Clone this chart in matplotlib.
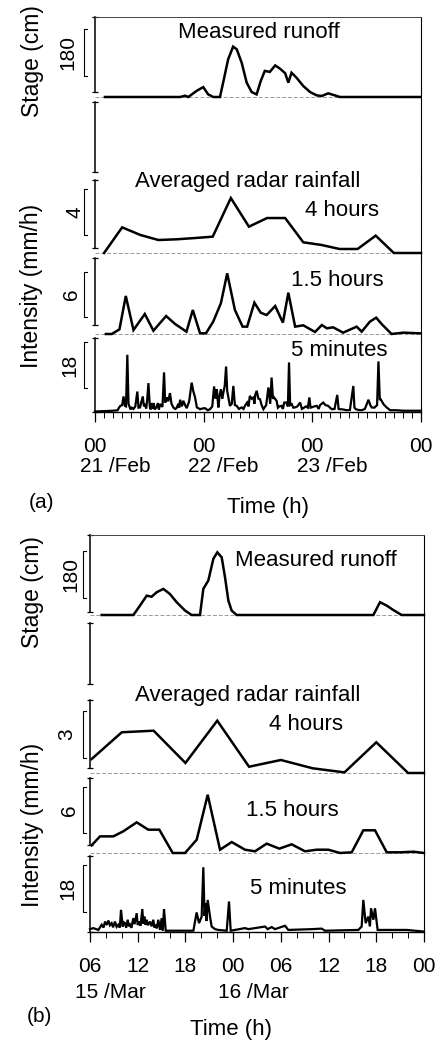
import matplotlib
matplotlib.use('Agg')
import matplotlib.pyplot as plt
from matplotlib import transforms
from matplotlib.ticker import MultipleLocator

plt.rcParams['font.family'] = ['Liberation Sans', 'DejaVu Sans']

# ---------------- DATA (hours) ----------------
# Panel (a): hours from 00h 21/Feb
stage_a = [(2.2, 0), (18.8, 0), (19.9, 5), (20.6, 0), (22.4, 23), (23.9, 38), (25.0, 10),
           (26.1, 0), (27.6, 0), (28.3, 55), (29.4, 144), (30.5, 193), (31.3, 183),
           (32.4, 131), (33.5, 55), (34.6, 19), (35.7, 10), (36.6, 61), (37.5, 100),
           (38.6, 96), (39.8, 121), (40.9, 108), (42.0, 91), (42.7, 55), (43.4, 93),
           (44.5, 74), (46.0, 42), (47.5, 19), (49.0, 6), (50.1, 4), (51.5, 14),
           (53.0, 6), (54.1, 0), (71.8, 0)]
rain4h_a = [(2, 0), (6, 2.23), (10, 1.57), (14, 1.13), (18, 1.19), (22, 1.30), (26, 1.42),
            (30, 4.78), (34, 2.29), (38, 3.04), (42, 3.04), (46, 0.93), (50, 0.70),
            (54, 0.35), (58, 0.35), (62, 1.51), (66, 0), (72, 0)]
rain15h_a = [(2.4, 0), (3.7, 0), (5.4, 0.62), (6.8, 5.07), (8.5, 0.53), (11.0, 2.67),
             (12.9, 0.44), (15.7, 2.4), (17.7, 1.33), (20.2, 0.31), (21.6, 3.2),
             (23.2, 0.09), (24.5, 0.09), (26.1, 1.64), (27.8, 4.09), (29.2, 8.09),
             (30.9, 3.2), (32.6, 0.98), (33.6, 0.98), (35.2, 4.18), (36.6, 2.84),
             (37.9, 2.53), (39.8, 3.73), (41.5, 1.51), (42.7, 5.51), (44.2, 0.98),
             (46.0, 1.16), (48.6, 0.27), (50.1, 1.2), (51.2, 0.76), (52.6, 0.89),
             (54.8, 0.18), (57.8, 0.98), (58.9, 0.31), (60.7, 1.64), (62.1, 2.18),
             (63.3, 1.33), (65.5, 0), (68.1, 0.18), (71.8, 0.09)]
rain5m_a = [(0, 0), (4.0, 0.3), (5.0, 0.5), (5.3, 1.5), (5.6, 2.2), (6.0, 2.5), (6.3, 5.9),
            (6.6, 2.2), (6.85, 2.0), (7.14, 22.2), (7.4, 3.0), (7.6, 2.0), (7.85, 0.8),
            (8.1, 1.5), (8.5, 1.0), (8.9, 2.0), (9.35, 7.8), (9.6, 1.5), (9.95, 1.6),
            (10.2, 3.5), (10.55, 5.9), (10.8, 2.0), (11.05, 2.9), (11.3, 1.2), (11.5, 4.0),
            (11.8, 11.1), (12.1, 2.0), (12.3, 0.8), (12.5, 3.3), (12.7, 1.0), (12.9, 3.3),
            (13.2, 0.8), (13.5, 1.5), (13.9, 3.3), (14.1, 0.8), (14.4, 2.9), (14.9, 1.8),
            (15.25, 15.3), (15.5, 3.5), (15.85, 5.5), (16.2, 4.0), (16.55, 7.2), (16.9, 3.0),
            (17.3, 1.6), (17.7, 1.0), (18.0, 1.3), (18.4, 3.0), (18.6, 1.5), (18.8, 4.6),
            (19.2, 2.0), (19.5, 4.2), (19.9, 2.5), (20.25, 1.3), (20.8, 4.0), (21.35, 11.3),
            (21.7, 8.0), (22.1, 5.5), (22.5, 1.6), (23.2, 0.9), (23.8, 1.2), (24.3, 1.3),
            (24.9, 0.5), (25.4, 0.9), (25.9, 2.0), (26.3, 9.8), (26.6, 5.0), (26.9, 8.7),
            (27.25, 1.6), (27.5, 6.0), (27.8, 8.7), (28.1, 5.0), (28.35, 7.4), (28.65, 10.0),
            (28.95, 17.6), (29.2, 8.0), (29.45, 5.5), (29.8, 2.2), (30.2, 3.0), (30.55, 10.0),
            (30.9, 2.5), (31.3, 2.2), (31.8, 1.0), (32.4, 1.6), (32.8, 1.0), (33.1, 2.2),
            (33.6, 3.5), (33.9, 2.0), (34.2, 6.1), (34.6, 5.0), (35.0, 5.5), (35.2, 3.0),
            (35.4, 6.5), (35.7, 8.1), (36.1, 5.0), (36.45, 4.8), (36.8, 2.5), (37.2, 0.9),
            (37.8, 2.5), (38.3, 9.4), (38.7, 3.0), (39.0, 13.3), (39.3, 5.0), (39.55, 5.5),
            (40.1, 4.2), (40.4, 1.5), (40.7, 2.0), (41.2, 2.2), (41.5, 1.0), (41.8, 3.5),
            (42.3, 3.5), (42.6, 2.0), (42.85, 19.2), (43.1, 2.5), (43.45, 2.9), (43.8, 1.5),
            (44.2, 1.6), (44.7, 2.0), (45.3, 3.5), (45.7, 1.0), (46.0, 1.3), (46.6, 2.0),
            (47.0, 1.5), (47.35, 5.5), (47.6, 1.5), (47.85, 1.6), (48.4, 2.0), (49.0, 2.2),
            (49.4, 1.0), (49.7, 2.5), (50.4, 3.5), (50.9, 2.5), (51.5, 2.2), (51.9, 1.5),
            (52.3, 0.9), (52.9, 1.0), (53.5, 6.5), (53.8, 1.0), (54.1, 0.9), (54.8, 0.8),
            (55.6, 0.5), (56.3, 0.6), (57.05, 10.0), (57.3, 1.5), (57.6, 0.9), (58.2, 0.6),
            (58.9, 0.5), (59.6, 1.0), (60.4, 4.6), (60.8, 2.5), (61.1, 1.6), (61.7, 1.5),
            (62.3, 2.5), (62.6, 19.6), (62.9, 4.8), (63.1, 4.8), (63.7, 2.9), (64.4, 1.6),
            (65.2, 0.5), (66.5, 0.5), (68.0, 0.3), (70.0, 0.3), (72.0, 0.3)]
hours_a = [0, 24, 48, 72]
hour_labels_a = ['00', '00', '00', '00']
date_pos_a = [0, 24, 48]
date_labels_a = ['21 /Feb', '22 /Feb', '23 /Feb']

# Panel (b): hours from 00h 15/Mar
stage_b = [(7.47, 0), (11.45, 0), (12.29, 36), (13.13, 74), (13.75, 70), (14.38, 87),
           (15.22, 100), (16.06, 80), (16.90, 49), (17.95, 17), (18.78, 0), (19.83, 0),
           (20.25, 100), (20.88, 132), (21.51, 215), (22.01, 240), (22.56, 221),
           (22.98, 144), (23.40, 55), (23.81, 17), (24.44, 0), (41.63, 0), (42.47, 49),
           (43.31, 36), (44.14, 19), (45.19, 0), (48.0, 0)]
rain4h_b = [(6.2, 0.89), (10, 2.60), (14, 2.70), (18, 0.64), (22, 3.34), (26, 0.40),
            (30, 0.83), (34, 0.30), (38, 0.04), (42, 1.96), (46, 0), (48, 0)]
rain15h_b = [(6.2, 1.0), (7.26, 2.17), (8.93, 2.17), (10.19, 2.83), (11.87, 4.0),
             (13.33, 3.04), (14.72, 3.04), (16.40, 0), (17.95, 0), (19.42, 1.74),
             (20.80, 7.6), (22.35, 0.43), (23.82, 1.43), (25.49, 0.43), (26.75, 0.22),
             (28.22, 1.22), (29.81, 0.57), (31.36, 1.13), (33.04, 0.22), (34.51, 0.43),
             (35.97, 0.43), (37.44, 0), (38.91, 0.09), (40.37, 2.96), (41.84, 2.96),
             (43.31, 0.09), (44.99, 0.09), (46.66, 0.17), (48.0, 0)]
rain5m_b = [(6.0, 0.9), (6.42, 1.3), (7.05, 0.6), (7.3, 1.8), (7.47, 2.6), (7.7, 1.5),
            (7.89, 3.8), (8.1, 2.5), (8.31, 4.2), (8.5, 2.4), (8.72, 3.2), (8.9, 1.6),
            (9.14, 3.8), (9.35, 1.8), (9.56, 2.6), (9.75, 1.5), (9.90, 8.3), (10.11, 1.9),
            (10.25, 3.5), (10.40, 3.2), (10.55, 1.5), (10.74, 4.5), (10.9, 2.0), (11.03, 2.6),
            (11.2, 1.4), (11.45, 5.1), (11.6, 2.8), (11.87, 7.0), (12.0, 2.5), (12.16, 3.8),
            (12.35, 2.2), (12.58, 8.6), (12.7, 3.0), (12.83, 5.7), (13.0, 2.5), (13.13, 4.5),
            (13.3, 2.4), (13.55, 3.8), (13.75, 2.0), (13.96, 4.5), (14.1, 1.5), (14.26, 2.6),
            (14.4, 1.2), (14.59, 4.5), (14.8, 0.6), (15.01, 5.1), (15.15, 0.4), (15.31, 8.6),
            (15.52, 0.3), (16.27, 0.3), (17.95, 0.3), (19.0, 0.3), (19.41, 7.3), (19.71, 3.2),
            (20.04, 5.7), (20.25, 24.6), (20.4, 6.0), (20.55, 10.9), (20.65, 4.0),
            (20.80, 12.1), (21.09, 5.7), (21.30, 1.9), (21.72, 0.9), (22.14, 0.6),
            (23.19, 0.3), (23.48, 11.5), (23.69, 0.3), (25.49, 1.3), (25.91, 0.9),
            (28.01, 1.9), (28.34, 0.9), (28.84, 1.7), (29.26, 0.9), (30.52, 2.2),
            (30.94, 0.6), (33.87, 0.9), (35.13, 1.1), (35.55, 0.3), (39.74, 0.6),
            (40.16, 1.9), (40.37, 12.1), (40.66, 3.2), (41.00, 5.7), (41.2, 2.0),
            (41.34, 8.9), (41.63, 4.5), (41.84, 8.9), (42.17, 0.6), (45.82, 0.6),
            (47.92, 0.0)]
hours_b = [6, 12, 18, 24, 30, 36, 42, 48]
hour_labels_b = ['06', '12', '18', '00', '06', '12', '18', '00']
date_pos_b = [6, 24]
date_labels_b = ['15 /Mar', '16 /Mar']

scale_lengths = [180, 4, 6, 18]          # panel (a) scale bars
scale_lengths_b = [180, 3, 6, 18]        # panel (b) scale bars

# ---------------- LAYOUT ----------------
W, H = 437, 1043
fig = plt.figure(figsize=(W / 100, H / 100), dpi=100)
LW = 1.8
LW5 = 1.6
FS_ANN = 16
FS_TICK = 15


def unzip(pairs):
    return [p[0] for p in pairs], [p[1] for p in pairs]


def make_row(left, right, top, bottom, zero, k, spine, xlim, first=False, last=False):
    ax = fig.add_axes([left / W, 1 - bottom / H, (right - left) / W, (bottom - top) / H])
    ax.set_facecolor('none')
    ax.set_xlim(*xlim)
    ax.set_ylim(-(bottom - zero) / k, (zero - top) / k)
    lo, hi = (zero - spine[1]) / k, (zero - spine[0]) / k
    ax.spines['left'].set_bounds(lo, hi)
    ax.spines['left'].set_linewidth(1.1)
    ax.spines['right'].set_linewidth(0.8)
    ax.spines['top'].set_visible(first)
    ax.spines['top'].set_linewidth(0.7)
    ax.spines['top'].set_color('#444444')
    ax.spines['bottom'].set_visible(last)
    ax.set_yticks([lo, hi])
    ax.tick_params(axis='y', direction='inout', length=5, width=0.9, labelleft=False)
    if not last:
        ax.set_xticks([])
    return ax


def scale_bar(ax, xpx, lbl_x, zero, k, bar_bottom_px, length, text):
    tr = transforms.blended_transform_factory(fig.transFigure, ax.transData)
    y0 = (zero - bar_bottom_px) / k
    y1 = y0 + length
    x0 = xpx / W
    x1 = (xpx + 3) / W
    ax.plot([x1, x0, x0, x1], [y0, y0, y1, y1], transform=tr, color='black',
            lw=0.8, clip_on=False)
    ax.text(lbl_x / W, (y0 + y1) / 2, text, transform=tr, rotation=90,
            ha='center', va='center', fontsize=15)


def ftext(x, y, s, **kw):
    fig.text(x / W, 1 - y / H, s, ha='center', va='center', **kw)


def panel(cfg):
    left, right, xlim = cfg['left'], cfg['right'], cfg['xlim']
    rows = cfg['rows']
    axes = []
    for i, r in enumerate(rows):
        ax = make_row(left, right, r['top'], r['bottom'], r['zero'], r['k'], r['spine'],
                      xlim, first=(i == 0), last=(i == len(rows) - 1))
        axes.append(ax)
    series = cfg['series']
    for j, (ax, s) in enumerate(zip([axes[0], axes[2], axes[3], axes[4]], series)):
        t, v = unzip(s)
        if j < 3:
            ax.axhline(0, color='#999999', lw=0.7, ls=(0, (4, 2)), zorder=1)
        lw = LW if j < 3 else LW5
        ax.plot(t, v, color='black', lw=lw, solid_joinstyle='miter', clip_on=False,
                zorder=3)
    for ax, r, L, lx, bb in zip([axes[0], axes[2], axes[3], axes[4]],
                                [rows[0], rows[2], rows[3], rows[4]], cfg['scales'],
                                cfg['scale_lbl_x'], cfg['bar_bottom']):
        scale_bar(ax, cfg['bar_x'], lx, r['zero'], r['k'], bb, L, str(L))
    # bottom axis
    ax5 = axes[4]
    ax5.set_xticks(cfg['hours'])
    ax5.xaxis.set_minor_locator(MultipleLocator(2))
    ax5.tick_params(axis='x', which='major', direction='out', length=7, width=0.9,
                    labelbottom=False)
    ax5.tick_params(axis='x', which='minor', direction='out', length=4, width=0.7)
    ax5.spines['bottom'].set_linewidth(1.0)
    trx = transforms.blended_transform_factory(ax5.transData, fig.transFigure)
    for h, lab in zip(cfg['hours'], cfg['hour_labels']):
        ax5.text(h, 1 - cfg['hour_y'] / H, lab, transform=trx, ha='center', va='center',
                 fontsize=FS_TICK)
    trd = trx + transforms.ScaledTranslation(0.20, 0, fig.dpi_scale_trans)
    for h, lab in zip(cfg['date_pos'], cfg['date_labels']):
        ax5.text(h, 1 - cfg['date_y'] / H, lab, transform=trd, ha='center', va='center',
                 fontsize=FS_TICK)
    return axes


cfg_a = dict(
    left=95, right=421, xlim=(0, 72),
    rows=[dict(top=17, bottom=100, zero=97, k=47 / 180, spine=(17, 92)),
          dict(top=100, bottom=176, zero=176, k=1.0, spine=(102, 172)),
          dict(top=176, bottom=256, zero=253, k=46 / 4, spine=(180, 248)),
          dict(top=256, bottom=336, zero=334, k=45 / 6, spine=(258, 325)),
          dict(top=336, bottom=412, zero=411.5, k=46 / 18, spine=(338, 412))],
    series=[stage_a, rain4h_a, rain15h_a, rain5m_a],
    scales=scale_lengths, scale_lbl_x=[68, 75, 72, 70], bar_x=84,
    bar_bottom=[76, 235, 317, 388],
    hours=hours_a, hour_labels=hour_labels_a, date_pos=date_pos_a,
    date_labels=date_labels_a, hour_y=447, date_y=467)

cfg_b = dict(
    left=90, right=424, xlim=(6, 48),
    rows=[dict(top=535, bottom=617, zero=615, k=47 / 180, spine=(535, 612)),
          dict(top=617, bottom=692, zero=692, k=1.0, spine=(623, 684)),
          dict(top=692, bottom=775, zero=773, k=47 / 3, spine=(700, 768)),
          dict(top=775, bottom=855, zero=853, k=46 / 6, spine=(778, 845)),
          dict(top=855, bottom=932, zero=931.5, k=47 / 18, spine=(856, 932))],
    series=[stage_b, rain4h_b, rain15h_b, rain5m_b],
    scales=scale_lengths_b, scale_lbl_x=[71, 67, 69, 68], bar_x=83,
    bar_bottom=[598, 758, 833, 912],
    hours=hours_b, hour_labels=hour_labels_b, date_pos=date_pos_b,
    date_labels=date_labels_b, hour_y=967, date_y=992)

panel(cfg_a)
panel(cfg_b)

# annotations
ftext(259, 33, 'Measured runoff', fontsize=FS_ANN)
ftext(248, 181, 'Averaged radar rainfall', fontsize=FS_ANN)
ftext(342, 211, '4 hours', fontsize=FS_ANN)
ftext(337, 280, '1.5 hours', fontsize=FS_ANN)
ftext(339, 350, '5 minutes', fontsize=FS_ANN)

ftext(316, 560, 'Measured runoff', fontsize=FS_ANN)
ftext(248, 695, 'Averaged radar rainfall', fontsize=FS_ANN)
ftext(306, 725, '4 hours', fontsize=FS_ANN)
ftext(292, 810, '1.5 hours', fontsize=FS_ANN)
ftext(298, 889, '5 minutes', fontsize=FS_ANN)

# axis labels
ftext(32, 61, 'Stage (cm)', fontsize=16.5, rotation=90)
ftext(32, 286, 'Intensity (mm/h)', fontsize=16.5, rotation=90)
ftext(32, 592, 'Stage (cm)', fontsize=16.5, rotation=90)
ftext(33, 825, 'Intensity (mm/h)', fontsize=16.5, rotation=90)

ftext(42, 503, '(a)', fontsize=15)
ftext(268, 508, 'Time (h)', fontsize=16)
ftext(39, 1017, '(b)', fontsize=15)
ftext(231, 1030, 'Time (h)', fontsize=16)

fig.savefig('out.png', dpi=100)
